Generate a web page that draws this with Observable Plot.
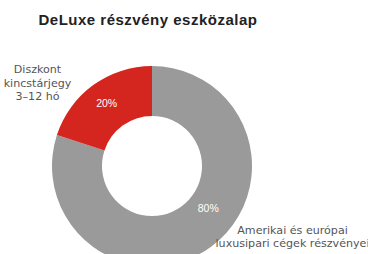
<!DOCTYPE html>
<html><head><meta charset="utf-8">
<script src="https://cdn.jsdelivr.net/npm/d3@7"></script>
<script src="https://cdn.jsdelivr.net/npm/@observablehq/plot@0.6"></script>
<style>
html,body{margin:0;padding:0;background:#fff;overflow:hidden;}
svg{display:block;font-family:"Liberation Sans",Arial,sans-serif;}
.ttl text{letter-spacing:0.5px;}
</style></head>
<body><div id="chart"></div>
<script>
const title = "DeLuxe részvény eszközalap";
const categories = ["Amerikai és európai\nluxusipari cégek részvényei", "Diszkont\nkincstárjegy\n3–12 hó"];
const values = [80, 20];
const valueLabels = ["80%", "20%"];
const colors = ["#9a9a9a", "#d4261e"];

const data = categories.map((c, i) => ({category: c, value: values[i], label: valueLabels[i], color: colors[i]}));
const pie = d3.pie().sort(null).value(d => d.value)(data);

const W = 368, H = 254;
const inner = 0.5, outer = 1;

const pctPos = pie.map((p, i) => {
  const a = i === 0 ? 2.22 : (p.startAngle + p.endAngle) / 2;
  const r = i === 0 ? 0.70 : 0.78;
  return {x: r * Math.sin(a), y: r * Math.cos(a), label: p.data.label};
});
const catPos = [
  {x: 1.40, y: -0.70, label: categories[0]},
  {x: -1.15, y: 0.84, label: categories[1]}
];

const donut = (index, {x, y}) => {
  const cx = x(0), cy = y(0), R = x(outer) - x(0);
  const g = d3.create("svg:g").attr("transform", `translate(${cx},${cy})`);
  const arc = d3.arc().innerRadius(R * inner).outerRadius(R);
  g.selectAll("path").data(pie).join("path")
    .attr("d", arc).attr("fill", d => d.data.color);
  return g.node();
};

const chart = Plot.plot({
  width: W, height: H,
  margin: 0,
  x: {domain: [-1.52, 2.16], range: [0, W], axis: null},
  y: {domain: [-0.88, 1.66], range: [H, 0], axis: null},
  marks: [
    donut,
    Plot.text(pctPos, {x: "x", y: "y", text: "label", fill: "white", fontSize: 10.5}),
    Plot.text(catPos, {x: "x", y: "y", text: "label", fill: "#555", fontSize: 11.1, lineHeight: 1.2, fontFamily: "DejaVu Sans"}),
    Plot.text([title], {x: -1.14, y: 1.46, text: d => d, textAnchor: "start", fontWeight: "bold", fontSize: 15, fill: "#222", className: "ttl"})
  ]
});
document.getElementById("chart").appendChild(chart);
</script></body></html>
